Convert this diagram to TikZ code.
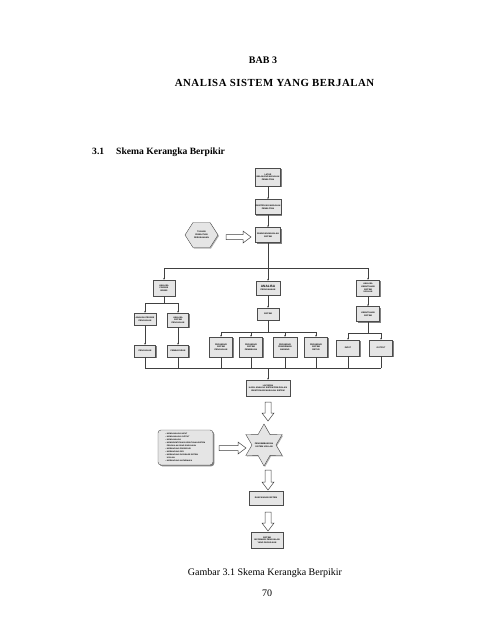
\documentclass[tikz,border=0pt]{standalone}
\usepackage{fontspec}
\setmainfont{Liberation Serif}
\newfontfamily\boxfont{Liberation Sans}
\newfontfamily\spacedserif[LetterSpace=5]{Liberation Serif}
\usetikzlibrary{shapes.geometric,shadows,arrows.meta}
\tikzset{
  box/.style={draw=black!70, fill=black!10, line width=0.4pt,
    drop shadow={shadow xshift=1.3pt, shadow yshift=-1.3pt, fill=black!70, opacity=0.7},
    minimum width=22pt, minimum height=13pt, inner sep=0.5pt, align=center,
    font=\boxfont\fontsize{2.1}{2.6}\selectfont\bfseries},
  conn/.style={draw=black!75, line width=0.4pt, -{Stealth[length=2pt,width=1.6pt]}},
  plain/.style={draw=black!75, line width=0.4pt},
  hollow/.style={draw=black!75, fill=white, line width=0.5pt},
  heading/.style={font=\fontsize{10}{12}\selectfont\bfseries, inner sep=0pt},
  capt/.style={font=\fontsize{10}{12}\selectfont, inner sep=0pt}
}
\begin{document}
\begin{tikzpicture}[x=1pt,y=-1pt]
\useasboundingbox (0,0) rectangle (495,640);

% headings
\node[heading] (bab) at (263,60) {BAB 3};
\node[heading, font=\spacedserif\fontsize{10.8}{12}\selectfont\bfseries] (judul) at (274.5,83) {ANALISA SISTEM YANG BERJALAN};
\node[heading, anchor=west, font=\fontsize{9.6}{12}\selectfont\bfseries] (sub) at (92,152) {3.1\hspace{12pt}Skema Kerangka Berpikir};

% top chain
\node[box, minimum width=25pt, minimum height=18pt] (b1) at (268,177) {LATAR\\BELAKANG MASALAH\\PENELITIAN};
\node[box, minimum width=25pt, minimum height=15pt] (b2) at (268,207) {IDENTIFIKASI MASALAH\\PENELITIAN};
\node[box, minimum width=25pt, minimum height=15pt] (b3) at (268,235) {RUMUSAN MASALAH\\SISTEM};

% hexagon
\draw[draw=black!70, fill=black!10, line width=0.4pt, drop shadow={shadow xshift=1pt, shadow yshift=-1pt, fill=black!60, opacity=0.5}]
  (185,235) -- (193,222.5) -- (210,222.5) -- (218,235) -- (210,247.5) -- (193,247.5) -- cycle;
\node[font=\boxfont\fontsize{2.1}{3.2}\selectfont\bfseries, align=center, inner sep=0pt] (hex) at (201.5,235) {TUJUAN\\PENELITIAN\\PERUSAHAAN};
\draw[hollow] (226,234.5) -- (243,234.5) -- (243,231) -- (251,237) -- (243,243) -- (243,239.5) -- (226,239.5) -- cycle;

% first level
\node[box, minimum width=22pt, minimum height=16pt] (L) at (164,288) {ANALISA\\PROSES\\BISNIS};
\node[box, minimum width=24pt, minimum height=14pt] (M) at (268,288) {{\fontsize{3.2}{3.4}\selectfont ANALISA}\\PERUSAHAAN};
\node[box, minimum width=23pt, minimum height=16pt] (R) at (368,288) {ANALISA\\KEBUTUHAN\\SISTEM\\USULAN};

\coordinate (h1) at (268,268);
\draw[conn] (b1) -- (b2);
\draw[conn] (b2) -- (b3);
\draw[plain] (b3) -- (h1);
\draw[conn] (h1) -| (L);
\draw[conn] (h1) -- (M);
\draw[conn] (h1) -| (R);

% left branch
\node[box, minimum width=22pt, minimum height=12pt] (LA) at (145,319) {ANALISA PROSES\\PENJUALAN};
\node[box, minimum width=21pt, minimum height=14pt] (LB) at (178,320) {ANALISA\\SISTEM\\PENJUALAN};
\node[box, minimum width=21pt, minimum height=12pt] (LA2) at (145,351) {PENJUALAN};
\node[box, minimum width=21pt, minimum height=12pt] (LB2) at (178,351) {PEMBAYARAN};
\coordinate (lj) at (164,303);
\draw[plain] (L) -- (lj);
\draw[conn] (lj) -| (LA);
\draw[conn] (lj) -| (LB);
\draw[conn] (LA) -- (LA2);
\draw[conn] (LB) -- (LB2);

% middle branch
\node[box, minimum width=22pt, minimum height=12pt] (S) at (268,314) {SISTEM};
\node[box, minimum width=23pt, minimum height=20pt] (M1) at (221,347) {PROSEDUR\\SISTEM\\PENJUALAN};
\node[box, minimum width=23pt, minimum height=20pt] (M2) at (251,347) {PROSEDUR\\SISTEM\\PEMBELIAN};
\node[box, minimum width=24pt, minimum height=20pt] (M3) at (285,347) {PROSEDUR\\PENGIRIMAN\\BARANG};
\node[box, minimum width=23pt, minimum height=20pt] (M4) at (316,347) {PROSEDUR\\SISTEM\\RETUR};
\coordinate (mj) at (268,332);
\draw[conn] (M) -- (S);
\draw[plain] (S) -- (mj);
\draw[conn] (mj) -| (M1);
\draw[conn] (mj) -| (M2);
\draw[conn] (mj) -| (M3);
\draw[conn] (mj) -| (M4);

% right branch
\node[box, minimum width=23pt, minimum height=15pt] (R2) at (368,314) {KEBUTUHAN\\SISTEM};
\node[box, minimum width=23pt, minimum height=16pt] (R3) at (348,348) {INPUT};
\node[box, minimum width=23pt, minimum height=16pt] (R4) at (381,348) {OUTPUT};
\coordinate (rj) at (368,333);
\draw[conn] (R) -- (R2);
\draw[plain] (R2) -- (rj);
\draw[conn] (rj) -| (R3);
\draw[conn] (rj) -| (R4);

% collector
\coordinate (cl) at (145,368);
\coordinate (cr) at (381,368);
\coordinate (cm) at (268,368);
\draw[plain] (cl) -- (cr);
\foreach \n in {LA2,LB2,M1,M2,M3,M4,R3,R4} {\draw[plain] (\n) -- (\n |- cl);}

\node[box, minimum width=44pt, minimum height=16pt] (lap) at (268,388) {LAPORAN\\HASIL ANALISA SISTEM PENJUALAN\\IDENTIFIKASI MASALAH SISTEM};
\draw[conn] (cm) -- (lap);

% hollow down arrow to star
\draw[hollow] (265,402) -- (271,402) -- (271,413) -- (274,413) -- (268,421) -- (262,413) -- (265,413) -- cycle;

% star
\node[star, star points=6, star point ratio=1.75, minimum size=42pt, inner sep=0pt,
  draw=black!70, fill=black!10, line width=0.4pt,
  drop shadow={shadow xshift=1pt, shadow yshift=-1pt, fill=black!60, opacity=0.5}] (star) at (264,445) {};
\node[font=\boxfont\fontsize{2.1}{2.8}\selectfont\bfseries, align=center, inner sep=0pt] (startext) at (264,445) {PENGEMBANGAN\\SISTEM USULAN};

% list box
\node[box, rounded corners=3pt, minimum width=55pt, minimum height=35pt, align=left, inner sep=2pt,
  font=\boxfont\fontsize{1.9}{3.0}\selectfont\bfseries] (list) at (185.5,447.5)
  {• MENGANALISA INPUT\\
   • MENGANALISA OUTPUT\\
   • MENGANALISA\\
   • MENGIDENTIFIKASI KEBUTUHAN SISTEM\\
   \phantom{•} PENJUALAN YANG DIUSULKAN\\
   • MERANCANG PROSEDUR\\
   • MERANCANG DFD\\
   • MERANCANG DATABASE SISTEM\\
   \phantom{•} USULAN\\
   • MERANCANG ANTARMUKA};
\draw[hollow] (219,445.5) -- (238,445.5) -- (238,442) -- (246,448) -- (238,454) -- (238,450.5) -- (219,450.5) -- cycle;

\draw[hollow] (265,470) -- (271,470) -- (271,482) -- (274,482) -- (268,490) -- (262,482) -- (265,482) -- cycle;
\node[box, minimum width=34pt, minimum height=14pt] (ranc) at (266,498) {RANCANGAN SISTEM};
\draw[hollow] (265,512) -- (271,512) -- (271,523) -- (274,523) -- (268,531) -- (262,523) -- (265,523) -- cycle;
\node[box, minimum width=32pt, minimum height=16pt] (akhir) at (267,540) {SISTEM\\INFORMASI PENJUALAN\\YANG DIUSULKAN};

% caption
\node[capt] (cap) at (265,573) {Gambar 3.1 Skema Kerangka Berpikir};
\node[capt] (page) at (267,593) {70};
\end{tikzpicture}
\end{document}
